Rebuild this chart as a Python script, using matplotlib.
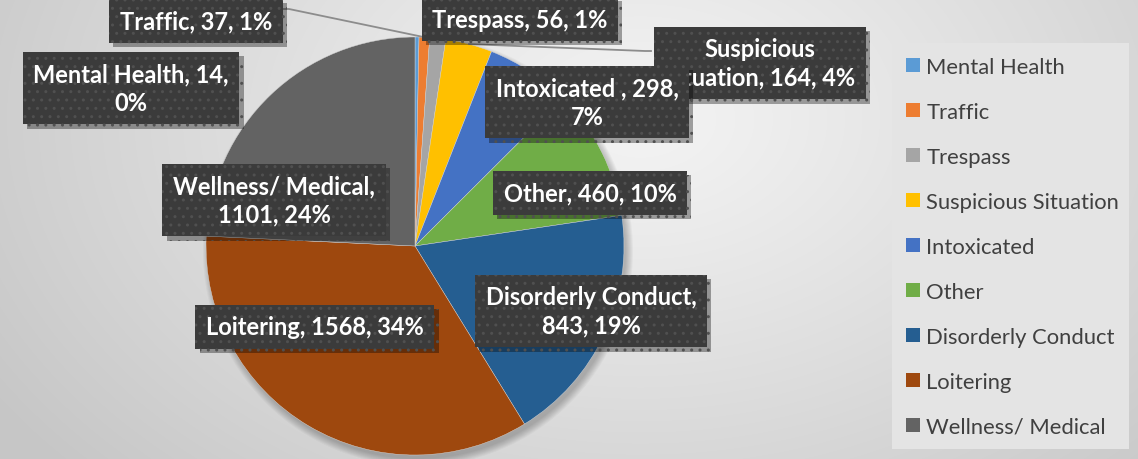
import numpy as np
import matplotlib
matplotlib.use("Agg")
import matplotlib.pyplot as plt
from matplotlib.patches import Patch, Rectangle, Circle
from matplotlib import patheffects as pe

# ---- data ----
categories = ["Mental Health", "Traffic", "Trespass", "Suspicious Situation",
              "Intoxicated", "Other", "Disorderly Conduct", "Loitering",
              "Wellness/ Medical"]
counts = [14, 37, 56, 164, 298, 460, 843, 1568, 1101]
label_texts = ["Mental Health, 14,\n0%", "Traffic, 37, 1%", "Trespass, 56, 1%",
               "Suspicious\nSituation, 164, 4%", "Intoxicated , 298,\n7%",
               "Other, 460, 10%", "Disorderly Conduct,\n843, 19%",
               "Loitering, 1568, 34%", "Wellness/ Medical,\n1101, 24%"]
colors = ["#5B9BD5", "#ED7D31", "#A5A5A5", "#FFC000", "#4472C4",
          "#70AD47", "#255E91", "#9E480E", "#636363"]

# ---- layout (pixel coordinates of label boxes) ----
W, H = 1138, 460
label_pos = [(131, 89), (196, 22), (520, 20), (760, 64), (587, 103),
             (590, 194), (591, 312), (315, 328), (274, 201)]
leaders = {1: (283, 10), 3: (651, 52)}
CX, CY, R = 415, 247, 209

fig = plt.figure(figsize=(W / 100, H / 100), dpi=100)

# background gradient
bg = fig.add_axes([0, 0, 1, 1])
yy, xx = np.mgrid[0:H, 0:W]
d = np.sqrt(((xx - 640) / 760.0) ** 2 + ((yy - 120) / 520.0) ** 2)
d = np.clip(d, 0, 1)
v = 0.955 - (0.955 - 0.78) * d ** 1.1
bg.imshow(np.dstack([v, v, v]), extent=[0, W, H, 0], aspect="auto")
bg.set_axis_off()

ax = fig.add_axes([0, 0, 1, 1])
ax.set_facecolor("none")

# pie shadow
for k in range(8):
    ax.add_patch(Circle((CX + 3, CY + 5), R + 6 - k, facecolor="black",
                        edgecolor="none", alpha=0.03, zorder=1))

wedges, _ = ax.pie(counts, colors=colors, startangle=-90, counterclock=True,
                   center=(CX, CY), radius=R,
                   wedgeprops=dict(linewidth=0.3, edgecolor="#d8d8d8"))
for w in wedges:
    w.set_zorder(2)

ax.set_aspect("auto")
ax.set_xlim(0, W)
ax.set_ylim(H, 0)
ax.set_axis_off()

# leader lines
for i, (lx, ly) in leaders.items():
    w = wedges[i]
    mid = np.deg2rad((w.theta1 + w.theta2) / 2)
    px, py = CX + R * np.cos(mid), CY + R * np.sin(mid)
    ax.plot([px, lx - 6 if i == 3 else lx + 6, lx], [py, ly, ly],
            color="#8c8c8c", lw=1.3, zorder=3)

# data labels
plt.rcParams["hatch.linewidth"] = 1.0
for i, txt in enumerate(label_texts):
    x, y = label_pos[i]
    t = ax.text(x, y, txt, ha="center", va="center", multialignment="center",
                color="white", fontsize=17, fontweight="bold", family="Lato",
                linespacing=1.3, zorder=5,
                bbox=dict(boxstyle="square,pad=0.45", facecolor="#3b3b3b",
                          edgecolor="#505050", linewidth=0, hatch=".."))
    t.get_bbox_patch().set_path_effects(
        [pe.SimplePatchShadow(offset=(3, -3), shadow_rgbFace="black", alpha=0.35),
         pe.Normal()])

# legend
fig.patches.append(Rectangle((892 / W, 1 - 450 / H), (1129 - 892) / W,
                             (450 - 44) / H, transform=fig.transFigure,
                             facecolor="#e4e4e4", edgecolor="none", zorder=1))
handles = [Patch(facecolor=c, edgecolor="none") for c in colors]
leg = fig.legend(handles, categories, loc="upper left",
                 bbox_to_anchor=(899 / W, 1 - 51 / H), frameon=False,
                 prop=dict(family="Lato", size=15.8), labelcolor="#404040",
                 handlelength=0.65, handleheight=0.65, handletextpad=0.3,
                 labelspacing=1.14, borderaxespad=0, borderpad=0.3)

fig.savefig("out.png", dpi=100)
